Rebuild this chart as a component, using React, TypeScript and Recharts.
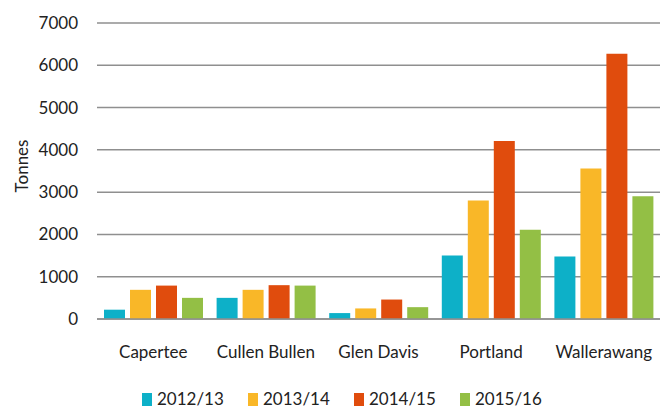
import React from 'react';
import { BarChart, Bar, XAxis, YAxis, CartesianGrid, Legend } from 'recharts';

const sites = ['Capertee', 'Cullen Bullen', 'Glen Davis', 'Portland', 'Wallerawang'];
const y2012 = [220, 500, 140, 1500, 1480];
const y2013 = [690, 690, 250, 2800, 3560];
const y2014 = [790, 800, 460, 4210, 6270];
const y2015 = [500, 790, 280, 2110, 2900];
const yTicks = [0, 1000, 2000, 3000, 4000, 5000, 6000, 7000];

const data = sites.map((name, i) => ({
    name,
    a: y2012[i],
    b: y2013[i],
    c: y2014[i],
    d: y2015[i],
}));

const series = [
    { key: 'a', label: '2012/13', color: '#0db0c8' },
    { key: 'b', label: '2013/14', color: '#f9b728' },
    { key: 'c', label: '2014/15', color: '#e04c0d' },
    { key: 'd', label: '2015/16', color: '#93bf45' },
];

const font = 'Lato, "Open Sans", sans-serif';

const LegendRow = (props: any) => {
    const items = props.payload || [];
    return (
        <div style={{ display: 'flex', fontFamily: font, fontSize: 17, lineHeight: '16px', color: '#222', paddingLeft: 122, paddingTop: 10 }}>
            {items.map((p: any) => (
                <div key={p.value} style={{ display: 'flex', alignItems: 'center', width: 106 }}>
                    <span style={{ width: 10, height: 13, background: p.color, marginRight: 5, display: 'inline-block' }} />
                    <span>{p.value}</span>
                </div>
            ))}
        </div>
    );
};

const TonnesLabel = (props: any) => {
    const vb = props.viewBox || { x: 0, y: 0, height: 0 };
    const cx = vb.x + 1;
    const cy = vb.y + vb.height / 2 - 5;
    return (
        <text
            x={cx}
            y={cy}
            transform={`rotate(-90, ${cx}, ${cy})`}
            textAnchor="middle"
            dominantBaseline="central"
            fill="#222"
            fontSize={17}
            fontFamily={font}
        >
            Tonnes
        </text>
    );
};

const App: React.FC = () => {
    return (
        <div style={{ position: 'absolute', left: 0, top: 0, width: 668, height: 408, background: '#fff' }}>
            <BarChart
                width={668}
                height={408}
                data={data}
                margin={{ top: 23, right: 8, left: 20, bottom: 0 }}
                barCategoryGap={7}
                barGap={5}
            >
                <CartesianGrid vertical={false} stroke="#8f8f8f" strokeWidth={1.5} />
                <XAxis
                    dataKey="name"
                    axisLine={{ stroke: '#8f8f8f', strokeWidth: 1.5 }}
                    tickLine={false}
                    tickSize={0}
                    tickMargin={27}
                    height={62}
                    tick={{ fill: '#222', fontSize: 17, fontFamily: font }}
                />
                <YAxis
                    domain={[0, 7000]}
                    ticks={yTicks}
                    axisLine={false}
                    tickLine={false}
                    tickSize={0}
                    tickMargin={19}
                    width={77}
                    tick={{ fill: '#222', fontSize: 17, fontFamily: font }}
                    label={<TonnesLabel />}
                />
                <Legend verticalAlign="bottom" height={27} content={<LegendRow />} />
                {series.map((s) => (
                    <Bar key={s.key} dataKey={s.key} name={s.label} fill={s.color} isAnimationActive={false} />
                ))}
            </BarChart>
        </div>
    );
};

export default App;
